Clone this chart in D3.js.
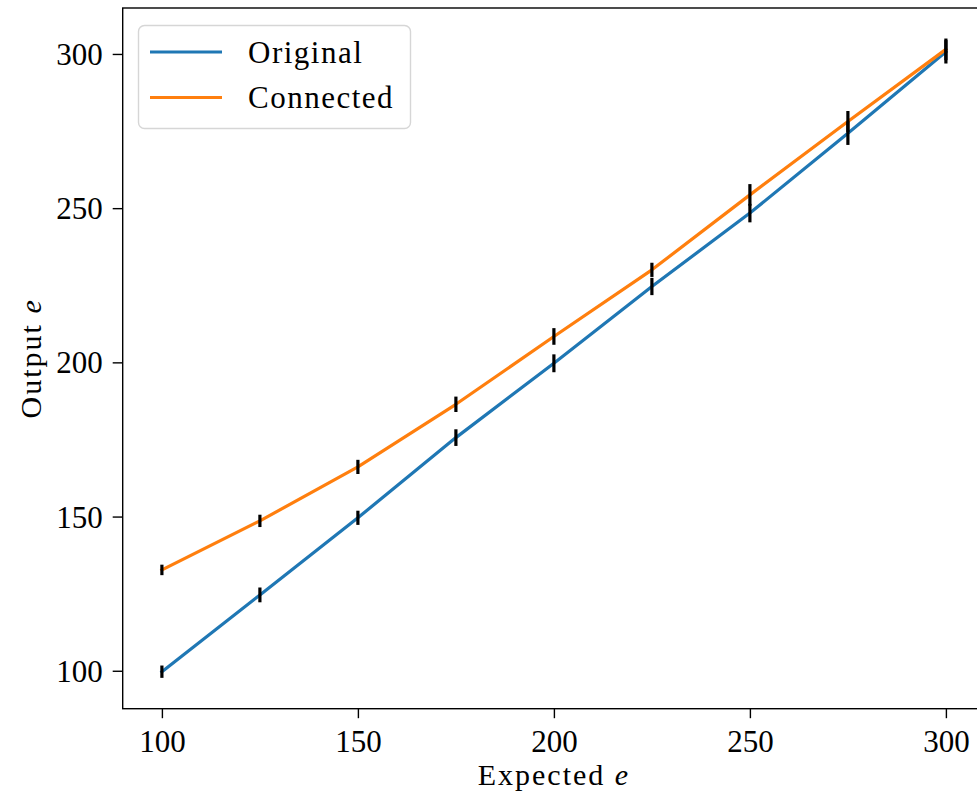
<!DOCTYPE html>
<html>
<head>
<meta charset="utf-8">
<script src="https://cdn.jsdelivr.net/npm/d3@7"></script>
<style>
  body { margin: 0; background: #fff; }
  text { font-family: "Liberation Serif", "DejaVu Serif", serif; fill: #000; }
</style>
</head>
<body>
<svg id="chart" width="977" height="803"></svg>
<script>
const expected = [100, 125, 150, 175, 200, 225, 250, 275, 300];
const originalVals = [99.7, 124.6, 149.6, 175.6, 199.7, 224.6, 248.4, 274.3, 300.7];
const originalErr = [2.0, 2.4, 2.3, 2.7, 2.9, 2.8, 3.0, 3.8, 3.8];
const connectedVals = [132.7, 148.6, 166.1, 186.4, 208.4, 230.0, 254.3, 278.1, 301.5];
const connectedErr = [1.7, 2.0, 2.3, 2.5, 2.7, 2.3, 3.5, 3.4, 3.5];
const xTicks = [100, 150, 200, 250, 300];
const yTicks = [100, 150, 200, 250, 300];
const seriesNames = ["Original", "Connected"];
const seriesColors = ["#1f77b4", "#ff7f0e"];

(function () {
const svg = d3.select("#chart");
const pL = 122.7, pR = 985.1, pT = 8, pB = 708.7;
const x = d3.scaleLinear().domain([90, 310]).range([pL, pR]);
const y = d3.scaleLinear().domain([87.7, 314.9]).range([pB, pT]);

const series = [
  { name: seriesNames[0], color: seriesColors[0], vals: originalVals, err: originalErr },
  { name: seriesNames[1], color: seriesColors[1], vals: connectedVals, err: connectedErr }
];

const plot = svg.append("g");
const line = d3.line().x(d => x(d[0])).y(d => y(d[1]));

series.forEach(s => {
  const pts = expected.map((e, i) => [e, s.vals[i]]);
  plot.append("path").datum(pts)
    .attr("d", line).attr("fill", "none")
    .attr("stroke", s.color).attr("stroke-width", 3.2)
    .attr("stroke-linejoin", "round").attr("stroke-linecap", "square");
});
series.forEach(s => {
  plot.selectAll(null).data(expected.map((e, i) => [e, s.vals[i], s.err[i]]))
    .enter().append("line")
    .attr("x1", d => x(d[0])).attr("x2", d => x(d[0]))
    .attr("y1", d => y(d[1] - d[2])).attr("y2", d => y(d[1] + d[2]))
    .attr("stroke", "#000").attr("stroke-width", 3.2);
});

const xAxis = d3.axisBottom(x).tickValues(xTicks).tickSize(9.5).tickPadding(12).tickFormat(d3.format("d"));
const yAxis = d3.axisLeft(y).tickValues(yTicks).tickSize(10).tickPadding(10).tickFormat(d3.format("d"));

const gx = svg.append("g").attr("transform", `translate(0,${pB})`).call(xAxis);
const gy = svg.append("g").attr("transform", `translate(${pL},0)`).call(yAxis);
[gx, gy].forEach(g => {
  g.select(".domain").remove();
  g.selectAll(".tick line").attr("stroke", "#000").attr("stroke-width", 1.4);
  g.selectAll(".tick text").attr("font-size", 31).attr("font-family", "Liberation Serif").attr("fill", "#000");
});
gy.selectAll(".tick text").attr("dy", "0.34em");

svg.append("rect").attr("x", pL).attr("y", pT)
  .attr("width", pR - pL).attr("height", pB - pT)
  .attr("fill", "none").attr("stroke", "#000").attr("stroke-width", 1.4);

const xl = svg.append("text").attr("x", (pL + pR) / 2).attr("y", 785)
  .attr("text-anchor", "middle").attr("font-size", 30).attr("letter-spacing", 2);
xl.append("tspan").text("Expected ");
xl.append("tspan").attr("font-style", "italic").text("e");

const yl = svg.append("text")
  .attr("transform", `translate(41,${(pT + pB) / 2}) rotate(-90)`)
  .attr("text-anchor", "middle").attr("font-size", 30).attr("letter-spacing", 2);
yl.append("tspan").text("Output ");
yl.append("tspan").attr("font-style", "italic").text("e");

const lg = svg.append("g");
lg.append("rect").attr("x", 138.5).attr("y", 25.5).attr("width", 272).attr("height", 103)
  .attr("rx", 6).attr("fill", "#fff").attr("fill-opacity", 0.8)
  .attr("stroke", "#d6d6d6").attr("stroke-width", 1.4);
series.forEach((s, i) => {
  const yy = 52 + i * 45.5;
  lg.append("line").attr("x1", 150).attr("x2", 222).attr("y1", yy).attr("y2", yy)
    .attr("stroke", s.color).attr("stroke-width", 3.2);
  lg.append("text").attr("x", 248).attr("y", yy).attr("dy", "0.34em")
    .attr("font-size", 31).attr("letter-spacing", 1.5).text(s.name);
});
})();
</script>
</body>
</html>
